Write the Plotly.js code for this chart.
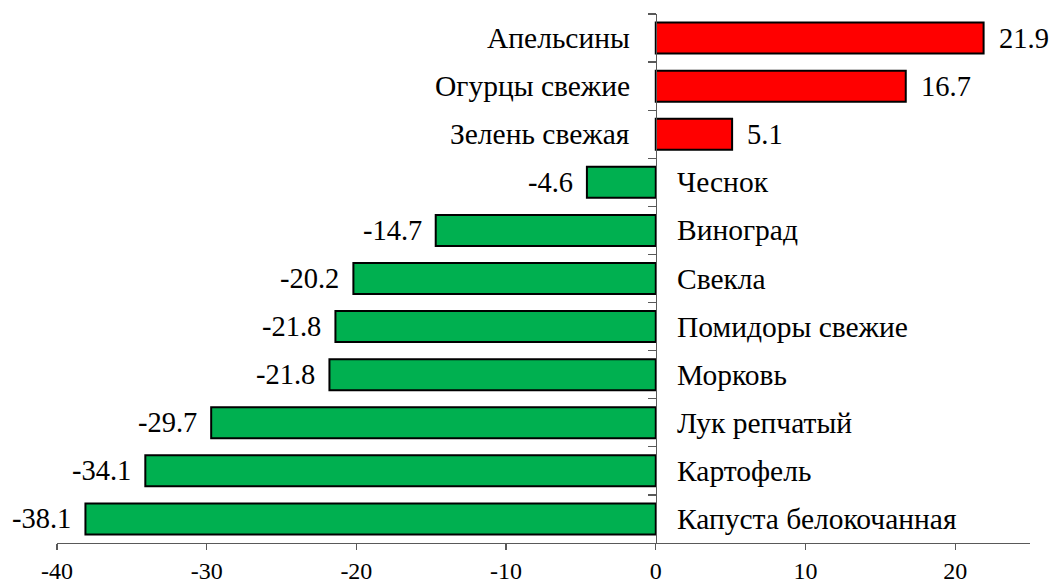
<!DOCTYPE html>
<html>
<head>
<meta charset="utf-8">
<script src="https://cdn.plot.ly/plotly-3.0.1.min.js"></script>
<style>
html,body{margin:0;padding:0;background:#fff;}
#chart{width:1049px;height:583px;}
.fontwarm{position:absolute;left:0;top:0;font-family:'Liberation Serif';font-size:28px;color:#fff;opacity:0.01;pointer-events:none;white-space:nowrap;}
</style>
</head>
<body>
<div class="fontwarm">Капуста белокочанная 0123456789.-</div>
<div id="chart"></div>
<script>
const categories = ["Апельсины","Огурцы свежие","Зелень свежая","Чеснок","Виноград","Свекла","Помидоры свежие","Морковь","Лук репчатый","Картофель","Капуста белокочанная"];
const values = [21.9, 16.7, 5.1, -4.6, -14.7, -20.2, -21.4, -21.8, -29.7, -34.1, -38.1];
const valueLabels = ["21.9","16.7","5.1","-4.6","-14.7","-20.2","-21.8","-21.8","-29.7","-34.1","-38.1"];
const xTicks = [-40, -30, -20, -10, 0, 10, 20];

const FONT = "Liberation Serif";
const colors = values.map(v => v >= 0 ? "#FF0000" : "#00B050");

const trace = {
  type: "bar",
  orientation: "h",
  x: values,
  y: categories,
  marker: {color: colors, line: {color: "#000000", width: 2}},
  hoverinfo: "x+y"
};

const annotations = [];
categories.forEach((c, i) => {
  const v = values[i];
  annotations.push({
    x: 0, y: c, xref: "x", yref: "y",
    text: c, showarrow: false,
    xanchor: v >= 0 ? "right" : "left",
    xshift: v >= 0 ? -24 : 19,
    font: {family: FONT, size: 29.5, color: "#000"}
  });
  annotations.push({
    x: v, y: c, xref: "x", yref: "y",
    text: valueLabels[i], showarrow: false,
    xanchor: v >= 0 ? "left" : "right",
    xshift: v >= 0 ? 13 : -12,
    font: {family: FONT, size: 28.5, color: "#000"}
  });
});

const layout = {
  width: 1049, height: 583,
  margin: {l: 57, r: 19, t: 14, b: 40},
  paper_bgcolor: "#fff", plot_bgcolor: "#fff",
  showlegend: false,
  bargap: 0.355,
  font: {family: FONT, color: "#000"},
  xaxis: {
    range: [-40, 25],
    tickvals: xTicks,
    ticktext: xTicks.map(String),
    showgrid: false, zeroline: false,
    showline: true, linecolor: "#595959", linewidth: 1.3,
    ticks: "outside", ticklen: 6, tickcolor: "#595959", tickwidth: 1.3,
    tickfont: {family: FONT, size: 24, color: "#000"},
    ticklabelstandoff: 0,
    fixedrange: true
  },
  yaxis: {
    type: "category",
    autorange: "reversed",
    anchor: "free",
    position: 40 / 65,
    showline: true, linecolor: "#595959", linewidth: 1.3,
    ticks: "outside", tickson: "boundaries", ticklen: 8, tickcolor: "#595959", tickwidth: 1.3,
    showticklabels: false,
    showgrid: false, zeroline: false,
    fixedrange: true
  },
  annotations: annotations
};

Plotly.newPlot("chart", [trace], layout, {displayModeBar: false, staticPlot: true});
</script>
</body>
</html>
